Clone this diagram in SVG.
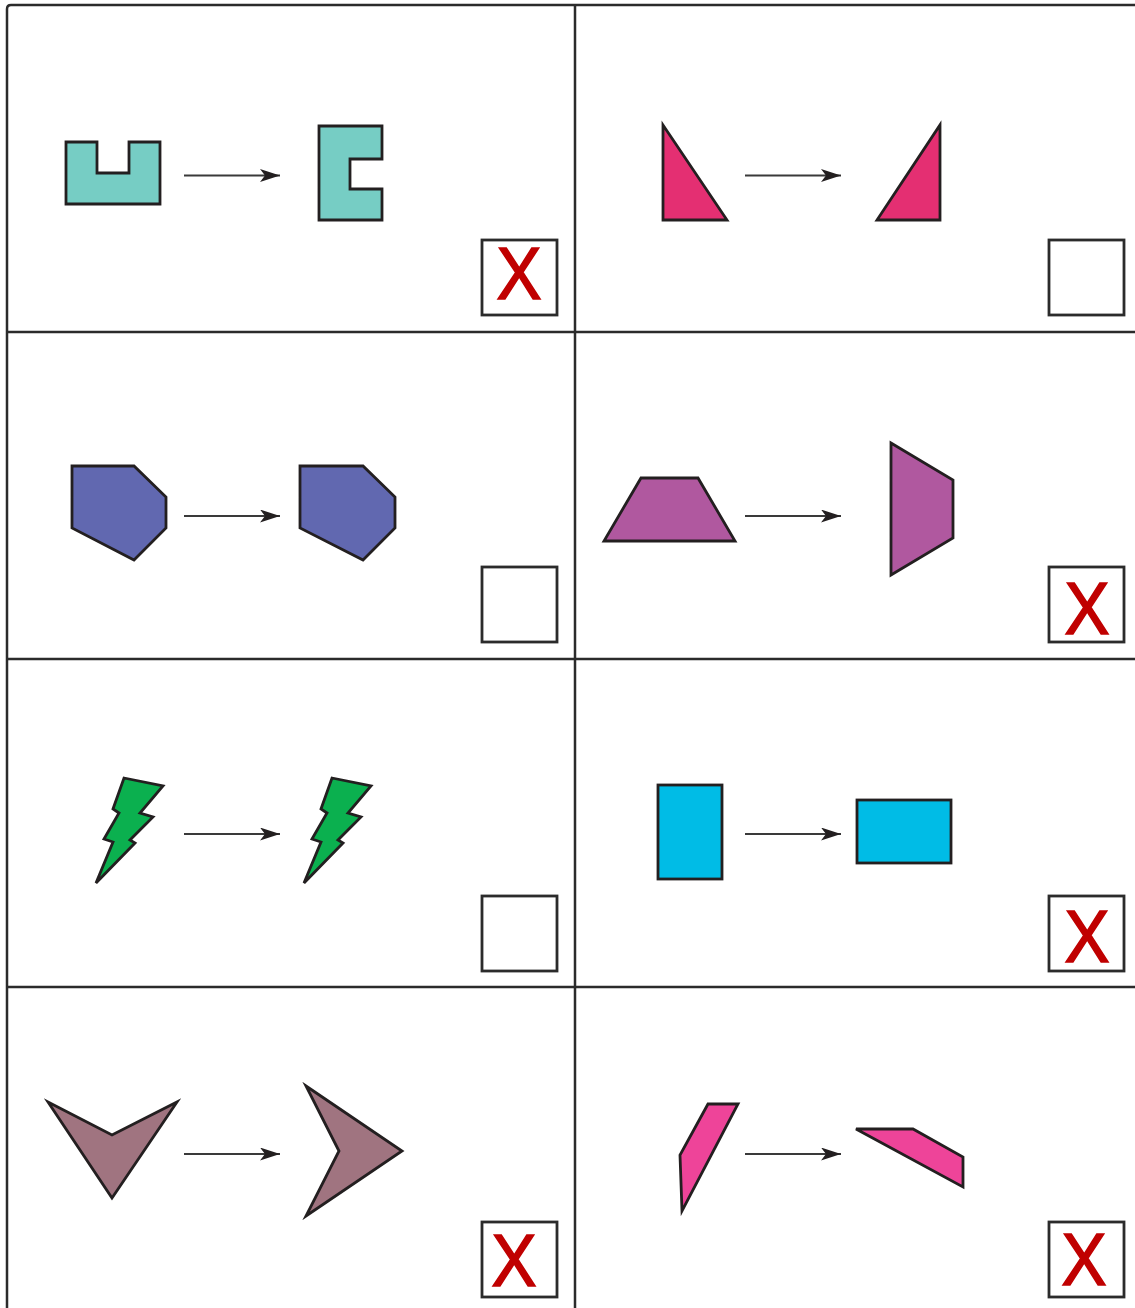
<svg xmlns="http://www.w3.org/2000/svg" width="1135" height="1308" viewBox="0 0 1135 1308">
<style>
.grid{stroke:#2b2b2b;stroke-width:2.5;fill:none}
.shape{stroke:#231f20;stroke-width:2.8;stroke-linejoin:miter}
.box{fill:#fff;stroke:#2b2b2b;stroke-width:2.8}
.conn{stroke:#3a3a3a;stroke-width:2;fill:none;marker-end:url(#ah)}
.mark{font-family:"Liberation Sans",Arial,sans-serif;font-size:74px;fill:#c00000;stroke:#c00000;stroke-width:1.6;text-anchor:middle}
</style>
<defs>
<marker id="ah" markerUnits="userSpaceOnUse" markerWidth="20" markerHeight="13" refX="20" refY="6.5" orient="auto">
<path d="M0,0 L20,6.5 L0,13 L5,6.5 Z" fill="#231f20"/>
</marker>
</defs>
<rect width="1135" height="1308" fill="#fff"/>
<g id="grid">
<path class="grid" d="M7,1308 V9 Q7,5 11,5 H1135"/>
<line class="grid" x1="575" y1="5" x2="575" y2="1308"/>
<line class="grid" x1="7" y1="332" x2="1135" y2="332"/>
<line class="grid" x1="7" y1="659" x2="1135" y2="659"/>
<line class="grid" x1="7" y1="987" x2="1135" y2="987"/>
</g>
<g id="cell1">
<polygon id="u-shape" class="shape" fill="#76cdc4" points="66,142 97,142 97,173 129,173 129,142 160,142 160,204 66,204"/>
<polygon id="c-shape" class="shape" fill="#76cdc4" points="319,126 382,126 382,159 350,159 350,189 382,189 382,220 319,220"/>
<rect class="box" x="482" y="240" width="75" height="75"/>
<text class="mark" x="519" y="299" textLength="45" lengthAdjust="spacingAndGlyphs">X</text>
</g>
<g id="cell2">
<polygon id="tri1" class="shape" fill="#e42f72" points="663,125 663,220 727,220"/>
<polygon id="tri2" class="shape" fill="#e42f72" points="940,125 940,220 877,220"/>
<rect class="box" x="1049" y="240" width="75" height="75"/>
</g>
<g id="cell3">
<polygon id="hex1" class="shape" fill="#6168b0" points="72,466 134,466 166,497 166,528 134,560 72,528"/>
<polygon id="hex2" class="shape" fill="#6168b0" points="300,466 363,466 395,497 395,528 363,560 300,528"/>
<rect class="box" x="482" y="567" width="75" height="75"/>
</g>
<g id="cell4">
<polygon id="trap1" class="shape" fill="#b0589f" points="641,478 698,478 735,541 604,541"/>
<polygon id="trap2" class="shape" fill="#b0589f" points="891,443 953,480 953,538 891,575"/>
<rect class="box" x="1049" y="567" width="75" height="75"/>
<text class="mark" x="1087" y="634" textLength="45" lengthAdjust="spacingAndGlyphs">X</text>
</g>
<g id="cell5">
<polygon id="bolt1" class="shape" fill="#0bb04f" points="124,778 163,786 140,813 153,817 130,840 135,843 96,883 113,842 104,839 119,813 113,809"/>
<polygon id="bolt2" class="shape" fill="#0bb04f" transform="translate(208,0)" points="124,778 163,786 140,813 153,817 130,840 135,843 96,883 113,842 104,839 119,813 113,809"/>
<rect class="box" x="482" y="896" width="75" height="75"/>
</g>
<g id="cell6">
<rect id="rect1" class="shape" fill="#00bce6" x="658" y="785" width="64" height="94"/>
<rect id="rect2" class="shape" fill="#00bce6" x="857" y="800" width="94" height="63"/>
<rect class="box" x="1049" y="896" width="75" height="75"/>
<text class="mark" x="1087" y="962" textLength="45" lengthAdjust="spacingAndGlyphs">X</text>
</g>
<g id="cell7">
<polygon id="chev1" class="shape" fill="#a07480" points="48,1102 112,1135 177,1102 112,1198"/>
<polygon id="chev2" class="shape" fill="#a07480" points="306,1086 402,1151 306,1216 339,1151"/>
<rect class="box" x="482" y="1222" width="75" height="75"/>
<text class="mark" x="514" y="1286" textLength="45" lengthAdjust="spacingAndGlyphs">X</text>
</g>
<g id="cell8">
<polygon id="quad1" class="shape" fill="#ee4499" points="708,1104 738,1104 682,1211 680,1155"/>
<polygon id="quad2" class="shape" fill="#ee4499" points="856,1129 913,1129 963,1157 963,1187"/>
<rect class="box" x="1049" y="1222" width="75" height="75"/>
<text class="mark" x="1084" y="1285" textLength="45" lengthAdjust="spacingAndGlyphs">X</text>
</g>
<g id="connectors">
<line class="conn" x1="184" y1="175.5" x2="280" y2="175.5"/>
<line class="conn" x1="745" y1="175.5" x2="841" y2="175.5"/>
<line class="conn" x1="184" y1="516" x2="280" y2="516"/>
<line class="conn" x1="745" y1="516" x2="841" y2="516"/>
<line class="conn" x1="184" y1="834" x2="280" y2="834"/>
<line class="conn" x1="745" y1="834" x2="841" y2="834"/>
<line class="conn" x1="184" y1="1154" x2="280" y2="1154"/>
<line class="conn" x1="745" y1="1154" x2="841" y2="1154"/>
</g>
</svg>
